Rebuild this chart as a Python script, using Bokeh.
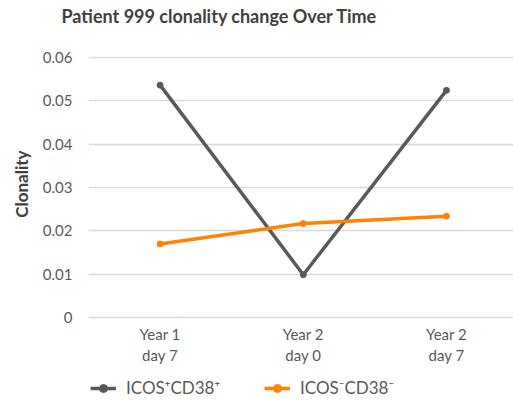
from bokeh.plotting import figure
from bokeh.models import ColumnDataSource, Legend, LegendItem, FixedTicker, Range1d, Title
from bokeh.embed import file_html
from bokeh.resources import INLINE

chart_title = "Patient 999 clonality change Over Time"
y_axis_title = "Clonality"
categories = ["Year 1\nday 7", "Year 2\nday 0", "Year 2\nday 7"]
pos_series = [0.0536, 0.0099, 0.0524]
neg_series = [0.0170, 0.0217, 0.0234]
series_names = ["ICOS\u207aCD38\u207a", "ICOS\u207bCD38\u207b"]
y_ticks = [0, 0.01, 0.02, 0.03, 0.04, 0.05, 0.06]
y_tick_labels = ["0", "0.01", "0.02", "0.03", "0.04", "0.05", "0.06"]

FONT = "Lato"
TXT = "#595959"
GRAY = "#58595b"
ORANGE = "#ff8200"

xs = list(range(len(categories)))
src_pos = ColumnDataSource(dict(x=xs, y=pos_series))
src_neg = ColumnDataSource(dict(x=xs, y=neg_series))

p = figure(width=513, height=400, output_backend="svg", toolbar_location=None,
           x_range=Range1d(-0.5, 2.468), y_range=Range1d(-0.0191, 0.0602))
p.min_border_left = 88
p.min_border_right = 0
p.min_border_top = 56
p.min_border_bottom = 0
p.outline_line_color = None
p.background_fill_color = "white"
p.border_fill_color = "white"

# spacer between frame and title
p.add_layout(Title(text=" ", text_font_size="2px", standoff=26), "above")
p.add_layout(Title(text=chart_title, text_font=FONT, text_font_size="18px",
                   text_font_style="bold", text_color="#404040", align="left",
                   offset=-27, vertical_align="bottom", standoff=0), "above")

l1 = p.line("x", "y", source=src_pos, line_color=GRAY, line_width=3.5)
m1 = p.scatter("x", "y", source=src_pos, size=6, color=GRAY)
l2 = p.line("x", "y", source=src_neg, line_color=ORANGE, line_width=3.5)
m2 = p.scatter("x", "y", source=src_neg, size=6, color=ORANGE)

p.xaxis.ticker = FixedTicker(ticks=xs)
p.xaxis.major_label_overrides = {i: c for i, c in enumerate(categories)}
p.xaxis.fixed_location = 0
p.yaxis.ticker = FixedTicker(ticks=y_ticks)
p.yaxis.major_label_overrides = {t: l for t, l in zip(y_ticks, y_tick_labels)}

for ax in (p.xaxis[0], p.yaxis[0]):
    ax.axis_line_color = None
    ax.major_tick_line_color = None
    ax.minor_tick_line_color = None
    ax.major_label_text_font = FONT
    ax.major_label_text_font_size = "15px"
    ax.major_label_text_color = TXT
p.xaxis.major_label_standoff = 1
p.yaxis.major_label_standoff = 10

ylabel = Title(text=y_axis_title, align="right", offset=94, vertical_align="top",
               text_font=FONT, text_font_size="17px", text_font_style="bold",
               text_color="#404040", standoff=12)
p.add_layout(ylabel, "left")

p.xgrid.grid_line_color = None
p.ygrid.grid_line_color = "#d9d9d9"
p.ygrid.grid_line_width = 1.5

legend = Legend(items=[LegendItem(label=series_names[0], renderers=[l1, m1]),
                       LegendItem(label=series_names[1], renderers=[l2, m2])],
                orientation="horizontal", location="bottom_left",
                label_text_font=FONT, label_text_font_size="17px",
                label_text_color=TXT, glyph_width=26, glyph_height=20,
                label_height=20, label_standoff=10, spacing=44,
                padding=0, margin=2, border_line_color=None,
                background_fill_alpha=0)
p.add_layout(legend, "center")

open("out.html", "w").write(file_html(p, INLINE))
